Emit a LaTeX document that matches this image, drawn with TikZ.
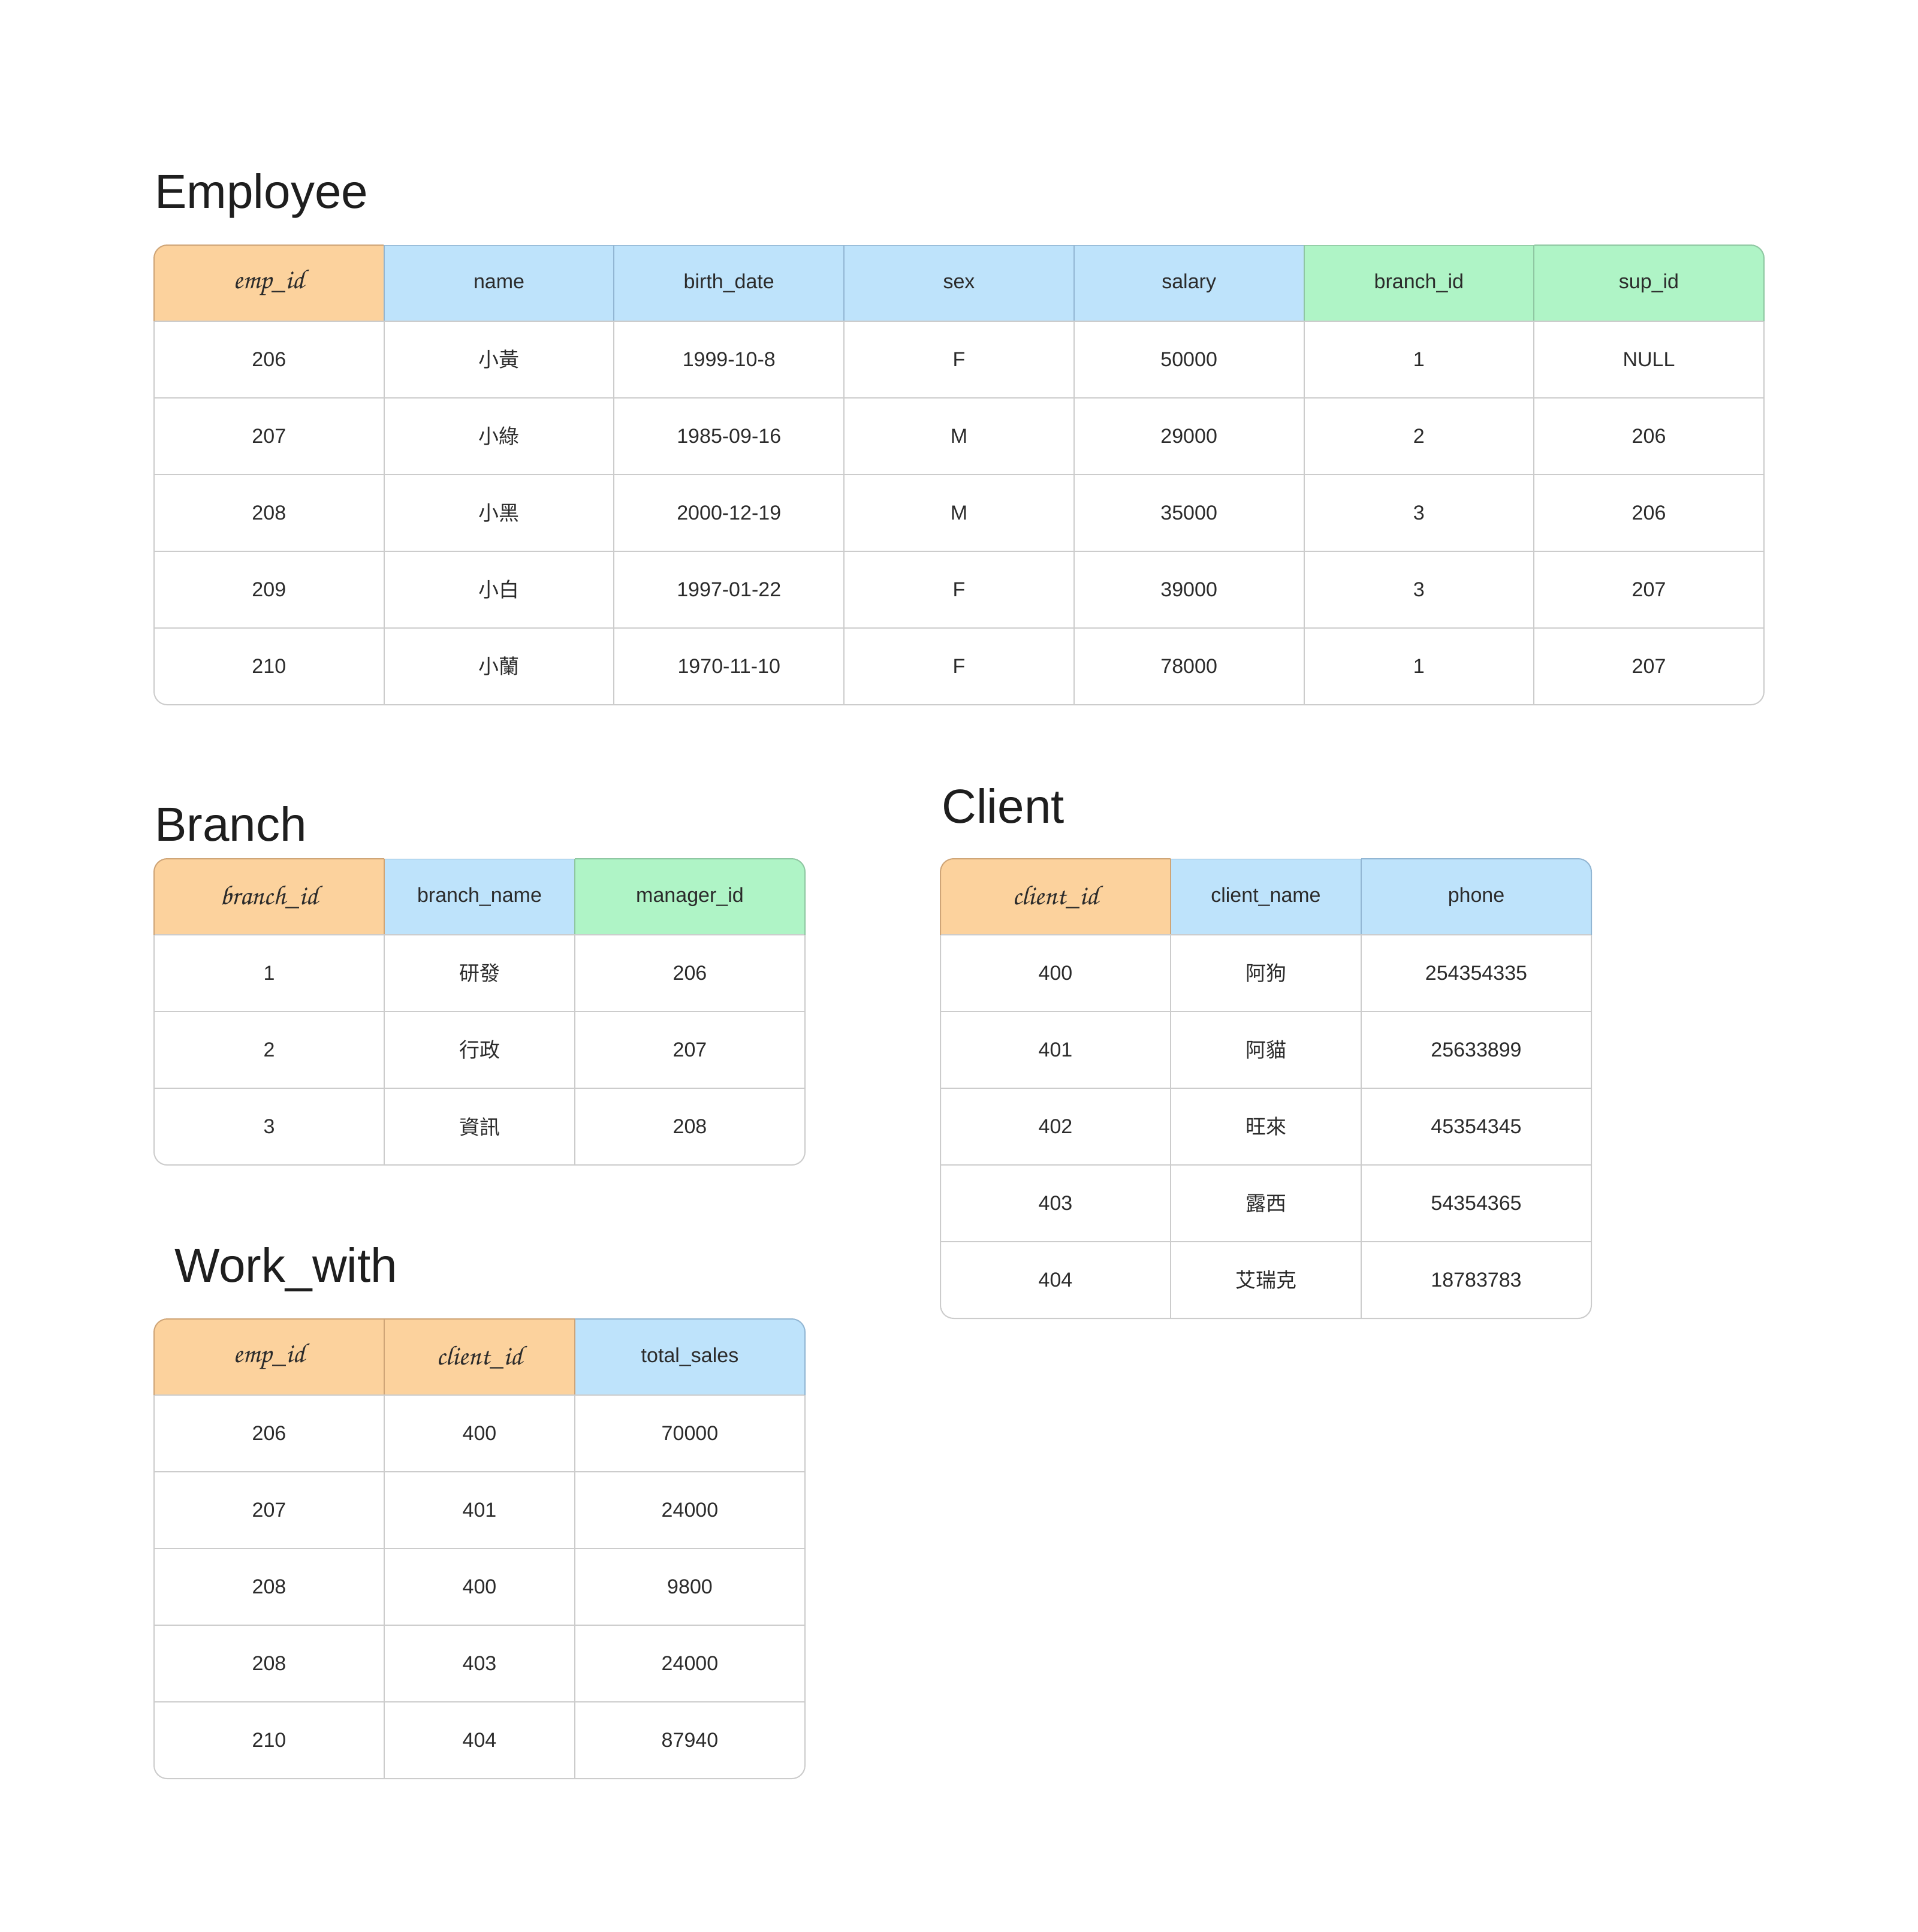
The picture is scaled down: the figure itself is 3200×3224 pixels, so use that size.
\documentclass[tikz,border=0pt]{standalone}
\usepackage[T1,TU]{fontenc}
\usepackage{fontspec}
\setmainfont{Liberation Sans}
\newfontfamily\cjk{Noto Sans CJK TC}
\usepackage{xcolor}
\usetikzlibrary{positioning}

\definecolor{pkfill}{HTML}{FCD29D}
\definecolor{pkline}{HTML}{CFA577}
\definecolor{attfill}{HTML}{BEE3FB}
\definecolor{attline}{HTML}{92B6D3}
\definecolor{fkfill}{HTML}{AFF4C6}
\definecolor{fkline}{HTML}{8FC7A2}
\definecolor{gridcol}{HTML}{CCCCCC}
\definecolor{inkcol}{HTML}{2B2B2B}
\definecolor{titlecol}{HTML}{1E1E1E}

\newcommand\hand{\fontencoding{T1}\fontfamily{pzc}\fontseries{mb}\fontshape{it}\fontsize{23pt}{25pt}\selectfont}

\begin{document}
\begin{tikzpicture}[x=0.5pt, y=-0.5pt,
    title/.style={anchor=base west, inner sep=0, text=titlecol, font=\fontsize{40pt}{44pt}\selectfont},
    cell/.style={draw=gridcol, fill=white, line width=1pt, inner sep=0, minimum height=64pt,
                 text=inkcol, font=\fontsize{17pt}{20pt}\selectfont},
    hdr/.style={cell, fill=#1fill, draw=#1line, minimum height=63.5pt},
    wide/.style={minimum width=191.85pt},
    narrow/.style={minimum width=159pt},
    outline/.style={line width=1pt, rounded corners=11pt}]
    \useasboundingbox (0,0) rectangle (3200,3224);

    % Employee
    \node[title] (emp-title) at (258,347) {Employee};
    \begin{scope}
        \clip[rounded corners=11pt] (257,409) rectangle (2943,1176);
        \foreach \lbl/\kind [count=\j] in {{\hand emp\_id}/pk, name/att, birth\_date/att,
                sex/att, salary/att, branch\_id/fk, sup\_id/fk}
            \node[hdr=\kind, wide] (emp-h-\j) at ({257+383.7*(\j-0.5)},472.5) {\lbl};
        \foreach \row [count=\i] in {
                {206,{\cjk 小黃},1999-10-8,F,50000,1,NULL},
                {207,{\cjk 小綠},1985-09-16,M,29000,2,206},
                {208,{\cjk 小黑},2000-12-19,M,35000,3,206},
                {209,{\cjk 小白},1997-01-22,F,39000,3,207},
                {210,{\cjk 小蘭},1970-11-10,F,78000,1,207}}
            \foreach \v [count=\j] in \row
                \node[cell, wide] (emp-\i-\j) at ({257+383.7*(\j-0.5)},{536+128*(\i-0.5)}) {\v};
    \end{scope}
    \draw[gridcol, outline] (257,536) -- (257,1176) -- (2943,1176) -- (2943,536);
    \draw[pkline, outline] (257,536) -- (257,409) -- (640,409);
    \draw[fkline, outline] (2560,409) -- (2943,409) -- (2943,536);

    % Branch
    \node[title] (br-title) at (258,1403) {Branch};
    \begin{scope}
        \clip[rounded corners=11pt] (257,1433) rectangle (1343,1944);
        \node[hdr=att, narrow] (br-h-2) at (800,1496.5) {branch\_name};
        \node[hdr=fk, wide] (br-h-3) at (1151,1496.5) {manager\_id};
        \node[hdr=pk, wide] (br-h-1) at (449,1496.5) {\hand branch\_id};
        \foreach \a/\b/\cc [count=\i] in {1/{\cjk 研發}/206, 2/{\cjk 行政}/207, 3/{\cjk 資訊}/208} {
            \node[cell, wide] (br-\i-1) at (449,{1560+128*(\i-0.5)}) {\a};
            \node[cell, narrow] (br-\i-2) at (800,{1560+128*(\i-0.5)}) {\b};
            \node[cell, wide] (br-\i-3) at (1151,{1560+128*(\i-0.5)}) {\cc};
        }
    \end{scope}
    \draw[gridcol, outline] (257,1560) -- (257,1944) -- (1343,1944) -- (1343,1560);
    \draw[pkline, outline] (257,1560) -- (257,1433) -- (641,1433);
    \draw[fkline, outline] (959,1433) -- (1343,1433) -- (1343,1560);

    % Client
    \node[title] (cl-title) at (1571,1373) {Client};
    \begin{scope}
        \clip[rounded corners=11pt] (1569,1433) rectangle (2655,2200);
        \node[hdr=att, narrow] (cl-h-2) at (2112,1496.5) {client\_name};
        \node[hdr=att, wide] (cl-h-3) at (2463,1496.5) {phone};
        \node[hdr=pk, wide] (cl-h-1) at (1761,1496.5) {\hand client\_id};
        \foreach \a/\b/\cc [count=\i] in {400/{\cjk 阿狗}/254354335, 401/{\cjk 阿貓}/25633899,
                402/{\cjk 旺來}/45354345, 403/{\cjk 露西}/54354365, 404/{\cjk 艾瑞克}/18783783} {
            \node[cell, wide] (cl-\i-1) at (1761,{1560+128*(\i-0.5)}) {\a};
            \node[cell, narrow] (cl-\i-2) at (2112,{1560+128*(\i-0.5)}) {\b};
            \node[cell, wide] (cl-\i-3) at (2463,{1560+128*(\i-0.5)}) {\cc};
        }
    \end{scope}
    \draw[gridcol, outline] (1569,1560) -- (1569,2200) -- (2655,2200) -- (2655,1560);
    \draw[pkline, outline] (1569,1560) -- (1569,1433) -- (1953,1433);
    \draw[attline, outline] (2271,1433) -- (2655,1433) -- (2655,1560);

    % Work_with
    \node[title] (ww-title) at (291,2139) {Work\_with};
    \begin{scope}
        \clip[rounded corners=11pt] (257,2201) rectangle (1343,2968);
        \node[hdr=att, wide] (ww-h-3) at (1151,2264.5) {total\_sales};
        \node[hdr=pk, wide] (ww-h-1) at (449,2264.5) {\hand emp\_id};
        \node[hdr=pk, narrow] (ww-h-2) at (800,2264.5) {\hand client\_id};
        \foreach \a/\b/\cc [count=\i] in {206/400/70000, 207/401/24000, 208/400/9800,
                208/403/24000, 210/404/87940} {
            \node[cell, wide] (ww-\i-1) at (449,{2328+128*(\i-0.5)}) {\a};
            \node[cell, narrow] (ww-\i-2) at (800,{2328+128*(\i-0.5)}) {\b};
            \node[cell, wide] (ww-\i-3) at (1151,{2328+128*(\i-0.5)}) {\cc};
        }
    \end{scope}
    \draw[gridcol, outline] (257,2328) -- (257,2968) -- (1343,2968) -- (1343,2328);
    \draw[pkline, outline] (257,2328) -- (257,2201) -- (959,2201);
    \draw[attline, outline] (959,2201) -- (1343,2201) -- (1343,2328);
\end{tikzpicture}
\end{document}
